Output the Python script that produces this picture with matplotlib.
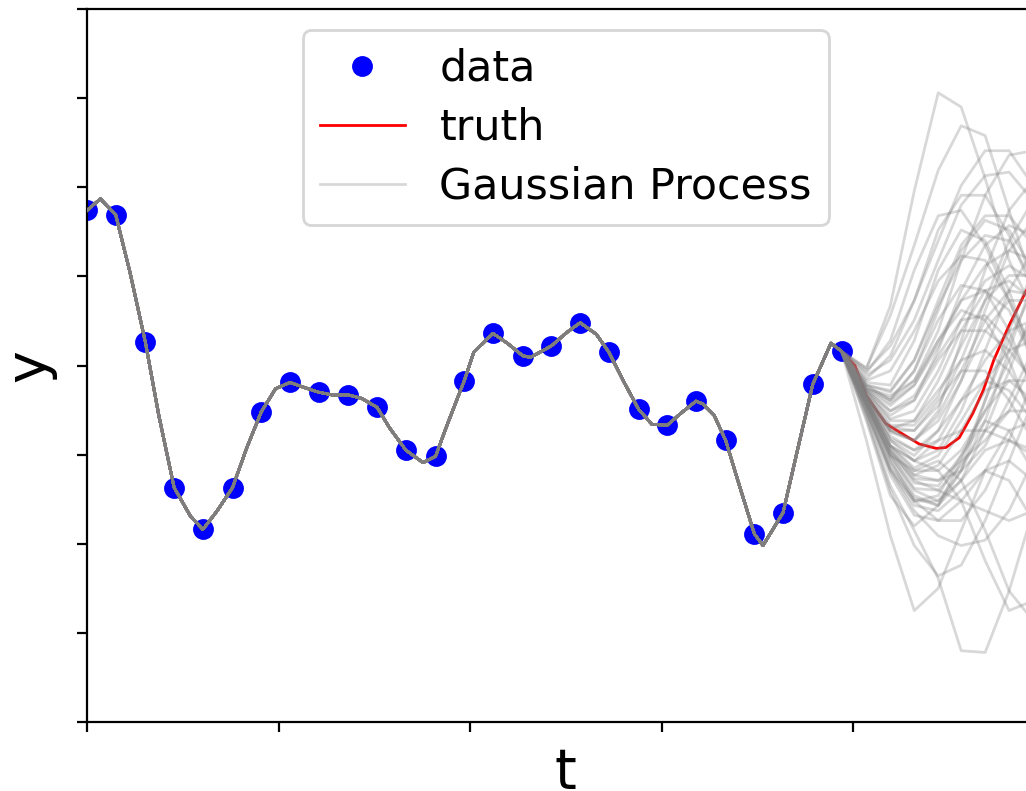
import numpy as np
import matplotlib
matplotlib.use("Agg")
import matplotlib.pyplot as plt

# ---- observed data ----
t_data = [0.00, 0.30, 0.61, 0.91, 1.21, 1.52, 1.82, 2.12, 2.42, 2.73, 3.03, 3.33, 3.64, 3.94,
          4.24, 4.55, 4.85, 5.15, 5.45, 5.76, 6.06, 6.36, 6.67, 6.97, 7.27, 7.58, 7.88]
y_data = [1.74, 1.69, 0.26, -1.37, -1.84, -1.37, -0.52, -0.19, -0.30, -0.33, -0.47, -0.95, -1.02, -0.17,
          0.36, 0.11, 0.22, 0.48, 0.15, -0.49, -0.67, -0.40, -0.84, -1.89, -1.65, -0.21, 0.16]

t_between = [0.14, 0.45, 0.75, 1.08, 1.36, 1.67, 1.97, 2.25, 2.56, 2.87, 3.16, 3.51, 3.76, 4.04,
             4.39, 4.63, 5.01, 5.32, 5.61, 5.90, 6.22, 6.43, 6.55, 6.82, 7.06, 7.42, 7.77]
y_between = [1.87, 1.04, -0.56, -1.69, -1.63, -0.92, -0.26, -0.24, -0.33, -0.37, -0.70, -1.09, -0.67, 0.15,
             0.25, 0.09, 0.37, 0.35, -0.19, -0.66, -0.52, -0.43, -0.56, -1.37, -2.02, -0.95, 0.25]

# ---- truth beyond the observations ----
t_truth_fore = [8.02, 8.14, 8.34, 8.52, 8.69, 8.87, 8.97, 9.11, 9.25, 9.36, 9.47, 9.63, 9.81, 10.0]
y_truth_fore = [0.00, -0.34, -0.65, -0.77, -0.88, -0.93, -0.92, -0.81, -0.54, -0.28, 0.06, 0.45, 0.84, 1.20]

# ---- Gaussian-process sample paths beyond the observations ----
t_gp_fore = [8.14, 8.39, 8.64, 8.89, 9.13, 9.38, 9.63, 9.88]
gp_fore = [
    [-0.03, 0.67, 1.96, 3.06, 2.90, 2.10, 1.18, 0.62],
    [-0.03, 0.56, 1.35, 2.19, 2.69, 2.58, 1.74, 0.90],
    [-0.06, 0.22, 0.73, 1.40, 2.02, 2.41, 2.41, 2.02],
    [-0.11, 0.06, 0.51, 1.18, 1.80, 2.13, 2.17, 1.85],
    [-0.08, 0.28, 1.07, 1.68, 1.74, 1.35, 0.73, 0.06],
    [-0.15, 0.11, 0.73, 1.52, 1.91, 1.91, 1.46, 0.84],
    [-0.22, -0.39, -0.17, 0.39, 1.18, 1.91, 2.36, 2.41],
    [-0.17, -0.06, 0.39, 0.95, 1.23, 1.18, 0.73, 0.17],
    [-0.22, -0.28, 0.06, 0.67, 1.18, 1.46, 1.40, 0.95],
    [-0.28, -0.51, -0.39, 0.17, 0.84, 1.35, 1.57, 1.46],
    [-0.19, -0.22, 0.28, 1.07, 1.52, 1.40, 0.84, 0.06],
    [-0.34, -0.73, -0.84, -0.51, 0.28, 1.07, 1.74, 2.08],
    [-0.26, -0.34, -0.17, 0.28, 0.73, 0.84, 0.62, 0.06],
    [-0.34, -0.73, -0.84, -0.62, -0.17, 0.39, 0.73, 0.73],
    [-0.37, -0.84, -1.07, -0.95, -0.51, 0.17, 0.84, 1.29],
    [-0.30, -0.62, -0.62, -0.28, 0.06, 0.17, -0.06, -0.51],
    [-0.39, -0.90, -1.18, -1.18, -0.95, -0.51, 0.06, 0.51],
    [-0.35, -0.79, -0.95, -0.84, -0.73, -0.73, -0.84, -0.95],
    [-0.43, -1.01, -1.40, -1.52, -1.29, -0.73, -0.06, 0.62],
    [-0.39, -0.95, -1.23, -1.12, -0.73, -0.28, -0.17, -0.39],
    [-0.45, -1.07, -1.52, -1.74, -1.74, -1.40, -0.84, -0.17],
    [-0.42, -0.95, -1.29, -1.40, -1.52, -1.63, -1.74, -1.63],
    [-0.37, -0.84, -1.01, -0.73, -0.17, 0.62, 1.29, 1.63],
    [-0.44, -1.04, -1.46, -1.57, -1.18, -0.39, 0.39, 1.07],
    [-0.33, -0.67, -0.67, -0.34, 0.22, 0.73, 1.01, 1.01],
    [-0.56, -1.35, -1.85, -2.39, -3.20, -3.22, -2.53, -1.63],
    [-0.84, -1.91, -2.75, -2.50, -1.85, -1.18, -0.73, -0.62],
    [-0.51, -1.18, -1.63, -1.91, -2.02, -1.96, -1.63, -1.07],
    [-0.45, -1.01, -1.18, -1.07, -1.29, -1.85, -2.53, -2.86],
    [-0.62, -1.46, -1.80, -1.57, -1.07, -0.39, 0.28, 0.84],
    [-0.59, -1.40, -2.02, -2.36, -2.24, -1.74, -1.07, -0.39],
    [-0.53, -1.23, -1.68, -1.74, -1.52, -1.18, -1.07, -1.29],
    [-0.51, -1.16, -1.52, -1.46, -1.01, -0.62, -0.73, -1.18],
    [-0.39, -0.90, -1.07, -1.18, -1.52, -2.19, -2.75, -2.64],
    [-0.30, -0.60, -0.51, -0.06, 0.51, 0.95, 1.12, 0.95],
    [-0.37, -0.90, -1.15, -1.01, -0.62, -0.17, 0.17, 0.28],
    [-0.28, -0.45, -0.22, 0.28, 0.62, 0.51, 0.06, -0.62],
    [-0.42, -0.98, -1.27, -1.29, -1.07, -0.84, -0.51, 0.06],
    [-0.35, -0.73, -0.73, -0.39, -0.06, -0.06, -0.39, -0.84],
    [-0.24, -0.37, -0.06, 0.62, 1.29, 1.63, 1.52, 1.07],
    [-0.30, -0.56, -0.39, 0.06, 0.39, 0.39, 0.17, -0.17],
    [-0.39, -0.93, -1.23, -1.29, -1.18, -0.90, -0.39, 0.17],
    [-0.35, -0.75, -0.84, -0.56, -0.06, 0.51, 0.84, 0.79],
    [-0.26, -0.39, -0.06, 0.51, 0.90, 0.84, 0.39, -0.28],
    [-0.45, -1.09, -1.49, -1.57, -1.29, -0.95, -0.84, -1.01],
    [-0.37, -0.82, -0.95, -0.73, -0.39, -0.17, -0.28, -0.62],
    [-0.22, -0.30, 0.06, 0.73, 1.35, 1.68, 1.68, 1.35],
    [-0.42, -0.98, -1.32, -1.35, -1.01, -0.51, -0.17, -0.17],
    [-0.33, -0.69, -0.73, -0.45, 0.06, 0.73, 1.40, 1.85],
    [-0.51, -1.18, -1.57, -1.63, -1.40, -1.18, -1.29, -1.74],
    [-0.28, -0.51, -0.34, 0.11, 0.51, 0.56, 0.28, -0.22],
    [-0.39, -0.90, -1.07, -0.84, -0.39, 0.06, 0.39, 0.51],
    [-0.35, -0.71, -0.62, -0.17, 0.39, 0.84, 0.95, 0.73],
    [-0.44, -1.01, -1.38, -1.40, -1.12, -0.73, -0.51, -0.51],
    [-0.26, -0.42, -0.22, 0.22, 0.73, 1.12, 1.29, 1.18],
    [-0.48, -1.14, -1.52, -1.52, -1.18, -0.62, 0.17, 0.95],
]

x_ticks = [0, 2, 4, 6, 8, 10]
y_ticks = [-4, -3, -2, -1, 0, 1, 2, 3, 4]

# path through the observed region (shared by truth and every GP sample)
pairs = sorted(zip(t_data + t_between, y_data + y_between))
t_path = [p[0] for p in pairs]
y_path = [p[1] for p in pairs]

fig = plt.figure(figsize=(5.13, 3.955), dpi=200)
ax = fig.add_axes([87 / 1026, 69 / 791, 957.5 / 1026, 713 / 791])

ax.plot(t_data, y_data, 'o', color='blue', markersize=6.5, label='data', zorder=2)
ax.plot(t_path + t_truth_fore, y_path + y_truth_fore, color='red', lw=1.0, label='truth', zorder=3)
for i, yf in enumerate(gp_fore):
    ax.plot(t_path + t_gp_fore, y_path + yf, color='gray', alpha=0.3, lw=1.0,
            label='Gaussian Process' if i == 0 else None, zorder=4)

ax.set_xlim(0, 10)
ax.set_ylim(-4, 4)
ax.set_xticks(x_ticks)
ax.set_yticks(y_ticks)
ax.set_xticklabels([])
ax.set_yticklabels([])
ax.set_xlabel('t', fontsize=20, labelpad=1.5)
ax.set_ylabel('y', fontsize=20, labelpad=4)

ax.legend(loc='upper center', fontsize=15.4, labelspacing=0.4)

fig.savefig('out.png', dpi=200)
